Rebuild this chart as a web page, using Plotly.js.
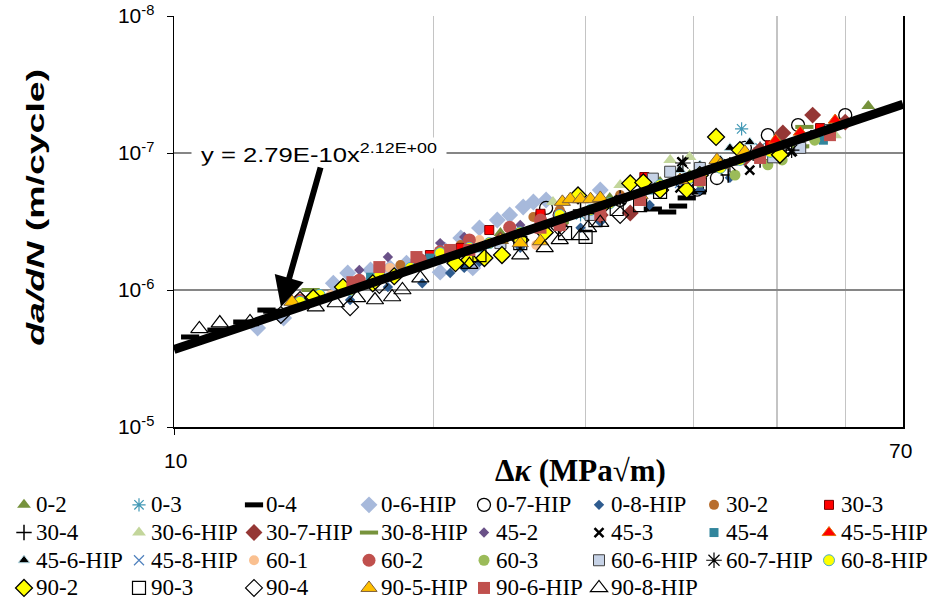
<!DOCTYPE html>
<html>
<head>
<meta charset="utf-8">
<script src="https://cdn.plot.ly/plotly-3.0.1.min.js"></script>
<style>
html,body{margin:0;padding:0;background:#fff;}
#chart{width:935px;height:600px;}
</style>
</head>
<body>
<div id="chart"></div>
<script>
// ---------- DATA (ΔK in MPa√m, da/dN in m/cycle) ----------
const seriesNames = ["0-2","0-3","0-4","0-6-HIP","0-7-HIP","0-8-HIP","30-2","30-3","30-4","30-6-HIP","30-7-HIP","30-8-HIP","45-2","45-3","45-4","45-5-HIP","45-6-HIP","45-8-HIP","60-1","60-2","60-3","60-6-HIP","60-7-HIP","60-8-HIP","90-2","90-3","90-4","90-5-HIP","90-6-HIP","90-8-HIP"];

const dk_0_2 = [20.35,23.9,28.0,31.2,32.0,36.6,39.6,40.7,45.9,50.4,53.4,57.6,63.8];
const da_0_2 = [1.96e-7,2.61e-7,3.71e-7,4.54e-7,4.70e-7,6.14e-7,6.9e-7,7.51e-7,1.02e-6,1.24e-6,1.14e-6,1.52e-6,2.20e-6];
const dk_0_3 = [25.2,29.6,34.7,39.6,45.5,47.8,53.2];
const da_0_3 = [2.52e-7,3.53e-7,4.93e-7,6.57e-7,1.50e-6,1.09e-6,1.24e-6];
const dk_0_4 = [10.44,11.2,12.0,12.8,13.0,35.9,37.3,38.4,39.3,40.4];
const da_0_4 = [4.54e-8,5.1e-8,5.84e-8,7.14e-8,7.0e-8,3.9e-7,3.71e-7,4.1e-7,4.7e-7,5.19e-7];
const dk_0_6 = [12.5,13.4,14.0,15.3,15.9,16.9,17.8,18.6,19.3,20.35,20.6,21.5,22.2,22.6,23.7,24.5,25.4,26.1,27.0,31.2];
const da_0_6 = [5.28e-8,6.25e-8,8.04e-8,1.12e-7,1.33e-7,1.40e-7,1.45e-7,1.57e-7,1.66e-7,1.35e-7,1.96e-7,2.4e-7,1.45e-7,2.84e-7,3.24e-7,3.53e-7,4.03e-7,4.39e-7,4.54e-7,5.37e-7];
const dk_0_7 = [27.0,28.0,32.9,40.4,42.6,45.9,48.8,50.4,52.9,60.0];
const da_0_7 = [3.97e-7,3.53e-7,4.54e-7,5.4e-7,6.57e-7,1.09e-6,1.35e-6,1.05e-6,1.6e-6,1.89e-6];
const dk_0_8 = [16.0,17.7,19.4,20.9,21.7,22.6,25.2,29.6,31.2,35.6,40.7,44.1];
const da_0_8 = [8.45e-8,1.05e-7,1.12e-7,1.33e-7,1.45e-7,1.6e-7,2.03e-7,2.85e-7,3.13e-7,4.17e-7,5.37e-7,6.6e-7];
const dk_30_2 = [18.3,21.5,26.1,28.0,32.9,38.6,45.3];
const da_30_2 = [1.52e-7,2.13e-7,3.41e-7,3.84e-7,4.93e-7,6.35e-7,9.2e-7];
const dk_30_3 = [19.8,21.5,23.2,26.6,26.6,31.2,35.1,40.7,49.1,56.1];
const da_30_3 = [1.80e-7,2.03e-7,2.74e-7,3.47e-7,3.6e-7,4.17e-7,6.68e-7,7.78e-7,1.14e-6,1.52e-6];
const dk_30_4 = [29.6,32.9,36.6,40.7,43.9,47.8];
const da_30_4 = [3.84e-7,4.7e-7,5.56e-7,7.26e-7,6.9e-7,8.9e-7];
const dk_30_6 = [27.5,32.9,37.6,39.6,47.8,58.4];
const da_30_6 = [4.39e-7,5.83e-7,8.9e-7,9.35e-7,1.05e-6,1.35e-6];
const dk_30_7 = [19.3,23.9,28.0,31.2,33.8,36.6,40.7,45.9,47.8,50.8,55.0,60.0];
const da_30_7 = [1.6e-7,2.32e-7,2.98e-7,3.53e-7,3.65e-7,5.37e-7,6.9e-7,9.2e-7,1.05e-6,1.40e-6,1.89e-6,1.68e-6];
const dk_30_8 = [14.4,28.0,53.2,53.8];
const da_30_8 = [1.0e-7,3.13e-7,1.12e-6,1.55e-6];
const dk_45_2 = [16.4,17.7,20.35,21.7,25.2,31.2,32.9,39.6];
const da_45_2 = [1.40e-7,1.74e-7,2.2e-7,2.44e-7,2.98e-7,4.17e-7,4.7e-7,6.6e-7];
const dk_45_3 = [32.9,38.6,38.8,46.5,52.0,55.3];
const da_45_3 = [4.54e-7,5.56e-7,8.6e-7,7.5e-7,1.02e-6,1.35e-6];
const dk_45_4 = [16.9,19.8,22.6,25.2,28.0,31.2,35.6,40.7,47.8,56.6];
const da_45_4 = [1.24e-7,1.71e-7,2.03e-7,2.63e-7,3.13e-7,4.17e-7,5.37e-7,6.9e-7,9.7e-7,1.24e-6];
const dk_45_5 = [36.6,40.7,49.8,53.2,58.4];
const da_45_5 = [5.37e-7,6.9e-7,1.24e-6,1.42e-6,1.74e-6];
const dk_45_6 = [31.2,35.6,38.6,40.7,43.0,44.1,46.5];
const da_45_6 = [4.54e-7,5.56e-7,7.51e-7,8.17e-7,8.9e-7,1.09e-6,1.2e-6];
const dk_45_8 = [19.3,22.0,26.6,31.2,38.6];
const da_45_8 = [1.6e-7,2.03e-7,2.98e-7,3.84e-7,6.04e-7];
const dk_60_1 = [15.2,17.8,20.9,22.6,26.3,28.0,30.4];
const da_60_1 = [9.2e-8,1.45e-7,1.8e-7,2.32e-7,2.13e-7,3.3e-7,3.53e-7];
const dk_60_2 = [14.0,16.4,19.3,20.35,22.0,24.5,26.6,28.0];
const da_60_2 = [8.45e-8,1.18e-7,1.66e-7,1.9e-7,2.32e-7,2.87e-7,3.24e-7,3.53e-7];
const dk_60_3 = [34.7,40.7,44.7,48.8,50.7,55.3];
const da_60_3 = [4.54e-7,6.14e-7,6.9e-7,8.2e-7,8.9e-7,1.24e-6];
const dk_60_6 = [23.9,30.4,35.9,37.6,40.7,49.5,53.2,57.6];
const da_60_6 = [2.2e-7,3.53e-7,6.5e-7,7.3e-7,7.78e-7,9.3e-7,1.09e-6,1.47e-6];
const dk_60_7 = [36.6,38.9,44.1,52.0];
const da_60_7 = [5.56e-7,8.45e-7,8.2e-7,1.05e-6];
const dk_60_8 = [14.0,14.75,16.0,17.3,18.8,20.35,22.0,23.2,25.2,28.0,30.4,32.0,36.6,39.6,43.0,45.3,49.1];
const da_60_8 = [8.2e-8,9.2e-8,1.0e-7,1.29e-7,1.45e-7,1.86e-7,2.03e-7,2.2e-7,2.63e-7,3.53e-7,3.84e-7,4.3e-7,5.83e-7,6.57e-7,7.8e-7,8.9e-7,1.02e-6];
const dk_90_2 = [14.5,15.7,17.0,18.0,21.2,22.0,22.9,24.0,25.2,26.9,29.4,31.2,33.8,35.0,36.6,39.3,40.7,42.5,45.3,50.4];
const da_90_2 = [8.75e-8,1.05e-7,1.12e-7,1.26e-7,1.57e-7,1.66e-7,1.71e-7,1.8e-7,2.32e-7,2.63e-7,4.9e-7,3.97e-7,6.0e-7,6.1e-7,5.37e-7,5.4e-7,6.9e-7,1.31e-6,1.05e-6,9.7e-7];
const dk_90_3 = [22.6,25.2,28.4,30.0,30.8,32.6,34.7,36.6,40.7];
const da_90_3 = [1.8e-7,2.2e-7,2.6e-7,2.44e-7,3.24e-7,3.9e-7,4.17e-7,5.2e-7,5.83e-7];
const dk_90_4 = [13.3,14.0,16.0,17.3,28.0,32.9];
const da_90_4 = [6.57e-8,8.45e-8,7.5e-8,1.09e-7,2.85e-7,3.53e-7];
const dk_90_5 = [13.7,23.9,25.2,26.6,28.2,28.8,29.6,30.4,31.2,34.7,38.6,42.6,43.0,45.9];
const da_90_5 = [8.2e-8,2.32e-7,2.2e-7,2.27e-7,4.4e-7,4.6e-7,4.6e-7,4.6e-7,4.7e-7,4.93e-7,6.35e-7,8.9e-7,8.2e-7,1.02e-6];
const dk_90_6 = [16.1,17.3,19.1,20.9,22.0,26.6,28.0,31.2,34.7,40.7,47.8,57.6];
const da_90_6 = [1.14e-7,1.47e-7,1.74e-7,1.96e-7,1.96e-7,2.85e-7,2.98e-7,3.53e-7,4.54e-7,6.35e-7,9.2e-7,1.35e-6];
const dk_90_8 = [10.7,11.3,12.25,14.6,15.4,16.3,17.1,17.9,18.4,19.3,22.0,25.2,26.9,28.0,29.6,30.2,31.2];
const da_90_8 = [5.2e-8,5.74e-8,5.84e-8,7.5e-8,8.04e-8,8.75e-8,8.45e-8,8.89e-8,1.0e-7,1.22e-7,1.53e-7,1.8e-7,2.03e-7,2.32e-7,2.48e-7,2.84e-7,3.1e-7];

// power-law trend line end points
const fitDK = [10, 70];
const fitDA = [3.68e-8, 2.27e-6];
const fitLabel = "y = 2.79E-10x<sup>2.12E+00</sup>";

const yTickVals = [1e-8, 1e-7, 1e-6, 1e-5];
const yTickText = ["10<sup>-5</sup>", "10<sup>-6</sup>", "10<sup>-7</sup>", "10<sup>-8</sup>"];
const xTickLabels = ["10", "70"];
const xGridVals = [20, 30, 40, 50, 60];

const seriesX = [dk_0_2,dk_0_3,dk_0_4,dk_0_6,dk_0_7,dk_0_8,dk_30_2,dk_30_3,dk_30_4,dk_30_6,dk_30_7,dk_30_8,dk_45_2,dk_45_3,dk_45_4,dk_45_5,dk_45_6,dk_45_8,dk_60_1,dk_60_2,dk_60_3,dk_60_6,dk_60_7,dk_60_8,dk_90_2,dk_90_3,dk_90_4,dk_90_5,dk_90_6,dk_90_8];
const seriesY = [da_0_2,da_0_3,da_0_4,da_0_6,da_0_7,da_0_8,da_30_2,da_30_3,da_30_4,da_30_6,da_30_7,da_30_8,da_45_2,da_45_3,da_45_4,da_45_5,da_45_6,da_45_8,da_60_1,da_60_2,da_60_3,da_60_6,da_60_7,da_60_8,da_90_2,da_90_3,da_90_4,da_90_5,da_90_6,da_90_8];

// ---------- STYLES ----------
const markerStyles = [
  {symbol:"triangle-up", size:12, color:"#76923c"},
  {symbol:"asterisk-open", size:11, color:"#4198b5", line:{color:"#4198b5", width:1.2}},
  {symbol:"line-ew", size:13, color:"#000", line:{color:"#000", width:5}},
  {symbol:"diamond", size:13, color:"#a7b9db"},
  {symbol:"circle-open", size:13, color:"#000", line:{color:"#000", width:1.3}},
  {symbol:"diamond", size:8, color:"#2f5c8f"},
  {symbol:"circle", size:10, color:"#b86e2e"},
  {symbol:"square", size:9, color:"#ff0000", line:{color:"#7a0000", width:1}},
  {symbol:"cross-thin-open", size:11, color:"#000", line:{color:"#000", width:1.5}},
  {symbol:"triangle-up", size:12, color:"#c3d69b"},
  {symbol:"diamond", size:13, color:"#953735"},
  {symbol:"line-ew", size:13, color:"#77933c", line:{color:"#77933c", width:4}},
  {symbol:"diamond", size:8, color:"#6a5188"},
  {symbol:"x-thin-open", size:9, color:"#000", line:{color:"#000", width:2.5}},
  {symbol:"square", size:9, color:"#31859c"},
  {symbol:"triangle-up", size:12, color:"#ff0000", line:{color:"#e46c0a", width:1}},
  {symbol:"triangle-up", size:10, color:"#000", line:{color:"#b7dee8", width:1}},
  {symbol:"x-thin-open", size:10, color:"#4f81bd", line:{color:"#4f81bd", width:1.2}},
  {symbol:"circle", size:10, color:"#fac090"},
  {symbol:"circle", size:13, color:"#c0504d"},
  {symbol:"circle", size:11, color:"#9bbb59"},
  {symbol:"square", size:11, color:"#c6d2e6", line:{color:"#404040", width:1}},
  {symbol:"asterisk-open", size:13, color:"#000", line:{color:"#000", width:1.2}},
  {symbol:"circle", size:11, color:"#ffff00", line:{color:"#4bacc6", width:1}},
  {symbol:"diamond", size:13, color:"#ffff00", line:{color:"#000", width:1.3}},
  {symbol:"square-open", size:13, color:"#000", line:{color:"#000", width:1.2}},
  {symbol:"diamond-open", size:13, color:"#000", line:{color:"#000", width:1.2}},
  {symbol:"triangle-up", size:14, color:"#ffc000", line:{color:"#7f5f3a", width:1}},
  {symbol:"square", size:12, color:"#c0504d"},
  {symbol:"triangle-up-open", size:15, color:"#000", line:{color:"#000", width:1.2}}
];

const traces = seriesNames.map((n, i) => ({
  type: "scatter", mode: "markers", name: n,
  x: seriesX[i], y: seriesY[i],
  marker: markerStyles[i], cliponaxis: false, hoverinfo: "x+y+name"
}));
traces.push({
  type: "scatter", mode: "lines", x: fitDK, y: fitDA, showlegend: false,
  line: {color: "#000", width: 9}, hoverinfo: "skip"
});

// plot area: x 174..903 px, y 16..427 px
const L = 174, R = 903, T = 16, B = 427;
const px = v => (v - L) / (R - L);
const py = v => (B - v) / (B - T);

const layout = {
  width: 935, height: 600,
  margin: {l: L, r: 935 - R, t: T, b: 600 - B, pad: 0, autoexpand: false},
  paper_bgcolor: "#fff", plot_bgcolor: "#fff",
  showlegend: true,
  font: {family: "Liberation Sans, Arial, sans-serif", color: "#000"},
  xaxis: {
    type: "log", range: [1, Math.log10(70)],
    tickmode: "array", tickvals: [10], showticklabels: false,
    ticks: "outside", ticklen: 6, tickcolor: "#000",
    showgrid: false, zeroline: false,
    showline: true, linecolor: "#000", linewidth: 1.5,
    minor: {tickmode: "array", tickvals: xGridVals, showgrid: true, gridcolor: "#c4c4c4", gridwidth: 1.2, ticks: ""}
  },
  yaxis: {
    type: "log", range: [-8, -5],
    tickmode: "array", tickvals: yTickVals, ticktext: yTickText,
    ticks: "outside", ticklen: 6, tickcolor: "#000",
    tickfont: {family: "Liberation Sans, Arial, sans-serif", size: 21},
    ticklabelstandoff: 8,
    showgrid: true, gridcolor: "#868686", gridwidth: 1.3,
    zeroline: false, showline: true, mirror: true, linecolor: "#000", linewidth: 1.5
  },
  legend: {
    orientation: "h", xref: "paper", yref: "paper",
    x: px(4), xanchor: "left", y: py(486), yanchor: "top",
    entrywidth: 68, entrywidthmode: "pixels", itemwidth: 30,
    font: {family: "Liberation Serif, Times New Roman, serif", size: 19, color: "#000"},
    traceorder: "normal", bgcolor: "rgba(0,0,0,0)", tracegroupgap: 0
  },
  annotations: [
    {xref: "paper", yref: "paper", x: px(319), y: py(153), xanchor: "center", yanchor: "middle",
     width: 250, align: "center",
     text: fitLabel, showarrow: false, bgcolor: "#fff", borderpad: 2,
     font: {family: "Liberation Sans, Arial, sans-serif", size: 21}},
    {xref: "paper", yref: "paper", x: px(281), y: py(307), text: "", showarrow: true,
     axref: "pixel", ayref: "pixel", ax: 40, ay: -141,
     arrowhead: 2, arrowsize: 1, arrowwidth: 6, arrowcolor: "#000", standoff: 0},
    {xref: "paper", yref: "paper", x: px(35), y: py(208), textangle: -90, showarrow: false,
     xanchor: "center", yanchor: "middle",
     text: "<b><i>da/dN</i> (m/cycle)</b>",
     font: {family: "Liberation Sans, Arial, sans-serif", size: 24}},
    {xref: "paper", yref: "paper", x: px(580), y: py(470), showarrow: false,
     xanchor: "center", yanchor: "middle",
     text: "<b>Δ<i>κ</i> (MPa√m)</b>",
     font: {family: "Liberation Serif, Times New Roman, serif", size: 31}},
    {xref: "paper", yref: "paper", x: px(175), y: py(461), showarrow: false,
     xanchor: "center", yanchor: "middle", text: xTickLabels[0],
     font: {family: "Liberation Sans, Arial, sans-serif", size: 21}},
    {xref: "paper", yref: "paper", x: px(900), y: py(451), showarrow: false,
     xanchor: "center", yanchor: "middle", text: xTickLabels[1],
     font: {family: "Liberation Sans, Arial, sans-serif", size: 21}}
  ]
};

Plotly.newPlot("chart", traces, layout, {displayModeBar: false, staticPlot: true}).then(() => {
  document.querySelectorAll(".annotation-text").forEach(t => {
    const s = t.textContent;
    if (s.indexOf("cycle") >= 0) {
      t.setAttribute("textLength", "277");
      t.setAttribute("lengthAdjust", "spacingAndGlyphs");
    } else if (s.indexOf("2.79E-10") >= 0) {
      t.setAttribute("textLength", "236");
      t.setAttribute("lengthAdjust", "spacingAndGlyphs");
    }
  });
  document.querySelectorAll(".legend .legendtext").forEach(t => {
    t.style.fontSize = "23px";
    t.setAttribute("x", "32");
  });
  // widen the legend column pitch to match the reference (115 px)
  const items = Array.from(document.querySelectorAll(".legend .traces"));
  if (items.length) {
    const parse = el => {
      const m = /translate\(\s*([-\d.]+)[ ,]+([-\d.]+)\s*\)/.exec(el.getAttribute("transform") || "");
      return m ? [parseFloat(m[1]), parseFloat(m[2])] : null;
    };
    const first = parse(items[0]);
    if (first) {
      items.forEach(el => {
        const p = parse(el);
        if (!p) return;
        const col = Math.round((p[0] - first[0]) / 113);
        el.setAttribute("transform", "translate(" + (first[0] + 115 * col) + "," + p[1] + ")");
      });
    }
  }
  document.querySelectorAll(".legend .scrollbox, .legend").forEach(el => el.removeAttribute("clip-path"));
});
</script>
</body>
</html>
